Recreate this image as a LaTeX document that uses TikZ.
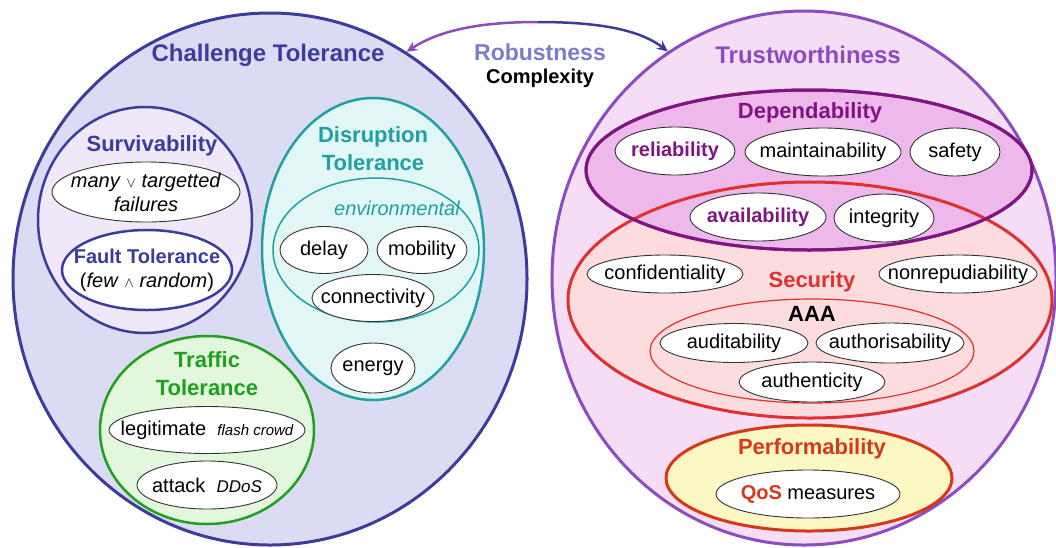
\documentclass[tikz,border=0pt]{standalone}
\usepackage{fontspec}
\setmainfont{Liberation Sans}
\usepackage{xcolor}
\usetikzlibrary{
    arrows.meta,
    shapes.geometric,
    positioning
}

\definecolor{chalblue}{HTML}{3C3C9C}
\definecolor{chalfill}{HTML}{DCDBF4}
\definecolor{survfill}{HTML}{F0E8F8}
\definecolor{teal}{HTML}{20A0A0}
\definecolor{disrfill}{HTML}{E2F6F6}
\definecolor{grn}{HTML}{20A020}
\definecolor{traffill}{HTML}{E2F7DC}
\definecolor{trustpurple}{HTML}{8A4CC0}
\definecolor{trustfill}{HTML}{F6DDF6}
\definecolor{deppurple}{HTML}{801480}
\definecolor{depfill}{HTML}{ECB9EA}
\definecolor{secred}{HTML}{E03030}
\definecolor{secfill}{HTML}{FCDCDC}
\definecolor{perfred}{HTML}{D83818}
\definecolor{perffill}{HTML}{FAF7C2}
\definecolor{robust}{HTML}{7C7CCC}

\tikzset{
    zone/.style={ellipse, inner sep=0pt, line width=2.5pt},
    item/.style={ellipse, draw=black!80, fill=white, line width=0.9pt,
        inner sep=0pt, minimum height=48pt},
    txt/.style={font=\fontsize{20}{24}\selectfont, align=center, inner sep=0pt},
    txtb/.style={font=\bfseries\fontsize{20}{24}\selectfont, align=center, inner sep=0pt},
    heading/.style={font=\bfseries\fontsize{24}{28}\selectfont, inner sep=0pt},
    subheading/.style={font=\bfseries\fontsize{22}{28}\selectfont, align=center, inner sep=0pt},
    arr/.style={line width=2.5pt, -{Stealth[length=11pt, width=10pt]}}
}

\begin{document}
\begin{tikzpicture}[x=1pt, y=-1pt]
    \useasboundingbox (0,0) rectangle (1056,547);

    % challenge tolerance side
    \node[zone, draw=chalblue, fill=chalfill, line width=3pt,
        minimum width=514pt, minimum height=532pt] (chal) at (270,279) {};
    \node[heading, text=chalblue] (chaltitle) at (268,55) {Challenge Tolerance};

    \node[zone, draw=chalblue, fill=survfill, minimum width=214pt, minimum height=226pt] (surv) at (145,220) {};
    \node[subheading, text=chalblue] (survtitle) at (152,146) {Survivability};
    \node[item, minimum width=188pt, minimum height=60pt,
        label={[txt]center:\textit{many} {\fontsize{14}{14}\selectfont$\vee$} \textit{targetted}\\\textit{failures}}] (many) at (146,192) {};
    \node[zone, draw=chalblue, fill=white, minimum width=170pt, minimum height=80pt,
        label={[txt]center:{\bfseries\color{chalblue}Fault Tolerance}\\(\textit{few} {\fontsize{14}{14}\selectfont$\wedge$} \textit{random})}] (fault) at (147,270) {};

    \node[zone, draw=teal, fill=disrfill, minimum width=222pt, minimum height=302pt] (disr) at (373,249) {};
    \node[subheading, text=teal] (disrtitle) at (373,149) {Disruption\\Tolerance};
    \node[zone, draw=teal, fill=disrfill, line width=1.5pt, minimum width=206pt, minimum height=144pt] (env) at (376,250) {};
    \node[txt, text=teal, font=\itshape\fontsize{20}{24}\selectfont] (envtitle) at (397,208) {environmental};
    \node[item, minimum width=88pt, minimum height=47pt, label={[txt]center:delay}] (delay) at (324,250) {};
    \node[item, minimum width=90pt, minimum height=47pt, label={[txt]center:mobility}] (mobility) at (422,250) {};
    \node[item, minimum width=122pt, minimum height=47pt, label={[txt]center:connectivity}] (conn) at (373,298) {};
    \node[item, minimum width=84pt, minimum height=50pt, label={[txt]center:energy}] (energy) at (373,368) {};

    \node[zone, draw=grn, fill=traffill, minimum width=214pt, minimum height=188pt] (traf) at (207,430) {};
    \node[subheading, text=grn] (traftitle) at (207,374) {Traffic\\Tolerance};
    \node[item, minimum width=196pt, minimum height=47pt,
        label={[txt]center:legitimate\ \ {\itshape\fontsize{15}{18}\selectfont flash crowd}}] (legit) at (207,430) {};
    \node[item, minimum width=140pt, minimum height=48pt,
        label={[txt]center:attack\ \ {\itshape\fontsize{17}{18}\selectfont DDoS}}] (attack) at (207,485) {};

    % trustworthiness side
    \node[zone, draw=trustpurple, fill=trustfill, line width=3pt,
        minimum width=504pt, minimum height=534pt] (trust) at (804,278) {};
    \node[heading, text=trustpurple] (trusttitle) at (808,55) {Trustworthiness};

    \node[zone, fill=secfill, minimum width=484pt, minimum height=236pt] (sec) at (810,300) {};
    \node[zone, draw=deppurple, fill=depfill, line width=3pt, minimum width=446pt, minimum height=160pt] (dep) at (809,170) {};
    \draw[secred, line width=3pt] (sec.center) ellipse (242 and 118);
    \draw[deppurple, line width=3pt] (dep.center) ellipse (223 and 80);

    \node[subheading, text=deppurple] (deptitle) at (810,113) {Dependability};
    \node[item, minimum width=120pt, label={[txtb, text=deppurple]center:reliability}] (reliab) at (675,151) {};
    \node[item, minimum width=156pt, label={[txt]center:maintainability}] (maint) at (823,152) {};
    \node[item, minimum width=90pt, label={[txt]center:safety}] (safety) at (955,152) {};
    \node[item, minimum width=136pt, label={[txtb, text=deppurple]center:availability}] (avail) at (758,217) {};
    \node[item, minimum width=100pt, label={[txt]center:integrity}] (integ) at (884,218) {};

    \node[subheading, text=secred] (sectitle) at (812,282) {Security};
    \node[item, minimum width=156pt, minimum height=38pt, label={[txt]center:confidentiality}] (confid) at (665,274) {};
    \node[item, minimum width=158pt, minimum height=38pt, label={[txt]center:nonrepudiability}] (nonrep) at (958,274) {};

    \node[zone, draw=secred, fill=secfill, line width=1.2pt, minimum width=324pt, minimum height=104pt] (aaa) at (812,351) {};
    \node[subheading] (aaatitle) at (812,314) {AAA};
    \node[item, minimum width=148pt, minimum height=39pt, label={[txt]center:auditability}] (audit) at (734,343) {};
    \node[item, minimum width=148pt, minimum height=40pt, label={[txt]center:authorisability}] (author) at (890,343) {};
    \node[item, minimum width=146pt, minimum height=40pt, label={[txt]center:authenticity}] (authent) at (812,382) {};

    \node[zone, draw=perfred, fill=perffill, line width=3pt, minimum width=286pt, minimum height=106pt] (perf) at (809,478) {};
    \node[subheading, text=perfred] (perftitle) at (812,449) {Performability};
    \node[item, minimum width=184pt, label={[txt]center:{\bfseries\color{perfred}QoS} measures}] (qos) at (808,494) {};

    % robustness arrows
    \node[heading, text=robust, font=\bfseries\fontsize{23}{26}\selectfont] (robtitle) at (540,52) {Robustness};
    \node[txtb] (complex) at (540,78) {Complexity};
    \coordinate (apex) at (538,22);
    \draw[arr, trustpurple] (apex) .. controls (480,22) and (440,30) .. (chal.59);
    \draw[arr, chalblue] (apex) .. controls (600,22) and (640,30) .. (trust.121);
\end{tikzpicture}
\end{document}
